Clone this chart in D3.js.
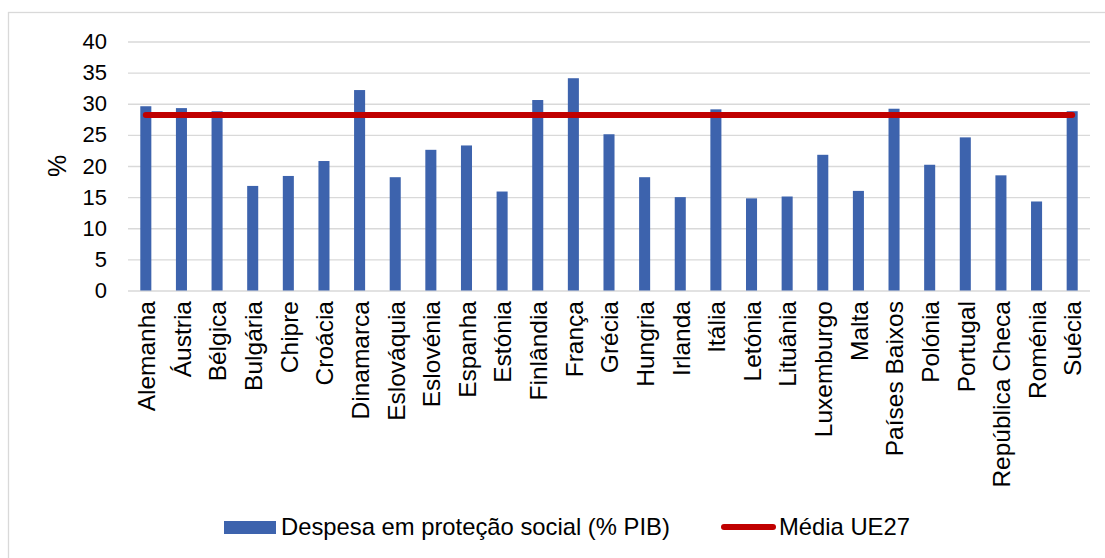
<!doctype html>
<html>
<head>
<meta charset="utf-8">
<script src="https://d3js.org/d3.v7.min.js"></script>
<style>
    body { margin: 0; background: #fff; }
    svg text { font-family: "Liberation Sans", Arial, sans-serif; fill: #000; }
</style>
</head>
<body>
<script>
    // países UE27 e despesa em proteção social (% PIB)
    const paises = ["Alemanha", "Áustria", "Bélgica", "Bulgária", "Chipre", "Croácia", "Dinamarca",
        "Eslováquia", "Eslovénia", "Espanha", "Estónia", "Finlândia", "França", "Grécia", "Hungria",
        "Irlanda", "Itália", "Letónia", "Lituânia", "Luxemburgo", "Malta", "Países Baixos", "Polónia",
        "Portugal", "República Checa", "Roménia", "Suécia"];
    const despesa = [29.6, 29.3, 28.8, 16.8, 18.4, 20.8, 32.2,
        18.2, 22.6, 23.3, 15.9, 30.6, 34.1, 25.1, 18.2,
        15.0, 29.1, 14.8, 15.1, 21.8, 16.0, 29.2, 20.2,
        24.6, 18.5, 14.3, 28.8];
    const mediaUE27 = 28.2;
    const yTicks = [0, 5, 10, 15, 20, 25, 30, 35, 40];
    const legenda = ["Despesa em proteção social (% PIB)", "Média UE27"];

    const W = 1105, H = 558;
    const plotL = 128, plotR = 1090, plotT = 41.5, plotB = 290.5;

    const svg = d3.select("body").append("svg")
        .attr("width", W)
        .attr("height", H);

    // chart border (runs past the window on right/bottom)
    svg.append("rect")
        .attr("x", 8.5).attr("y", 12.5)
        .attr("width", W + 20).attr("height", H + 20)
        .attr("fill", "none")
        .attr("stroke", "#d9d9d9")
        .attr("stroke-width", 1.3);

    const x = d3.scaleBand()
        .domain(paises)
        .range([plotL, plotR])
        .paddingInner(0.69)
        .paddingOuter(0.345);

    const y = d3.scaleLinear()
        .domain([0, 40])
        .range([plotB, plotT]);

    // gridlines
    const grid = svg.append("g")
        .attr("transform", `translate(${plotL},0)`)
        .call(d3.axisLeft(y).tickValues(yTicks).tickSize(-(plotR - plotL)).tickFormat(""));
    grid.select(".domain").remove();
    grid.selectAll("line").attr("stroke", "#d9d9d9").attr("stroke-width", 1.4);

    // y tick labels
    const yAxis = svg.append("g")
        .attr("transform", `translate(${plotL},0)`)
        .call(d3.axisLeft(y).tickValues(yTicks).tickSize(0).tickPadding(21));
    yAxis.select(".domain").remove();
    yAxis.selectAll("text")
        .style("font-size", "22px")
        .style("font-family", "'Liberation Sans', Arial, sans-serif")
        .attr("fill", "#000");

    // y title
    svg.append("text")
        .attr("transform", "translate(66,166) rotate(-90)")
        .attr("text-anchor", "middle")
        .style("font-size", "25px")
        .text("%");

    // bars
    svg.append("g").selectAll("rect")
        .data(despesa)
        .join("rect")
        .attr("x", (d, i) => x(paises[i]))
        .attr("y", d => y(d))
        .attr("width", x.bandwidth())
        .attr("height", d => y(0) - y(d))
        .attr("fill", "#3d63ad");

    // EU average line
    const line = d3.line()
        .x(p => x(p) + x.bandwidth() / 2)
        .y(() => y(mediaUE27));
    svg.append("path")
        .datum(paises)
        .attr("d", line)
        .attr("fill", "none")
        .attr("stroke", "#c00000")
        .attr("stroke-width", 6)
        .attr("stroke-linecap", "round");

    // x labels, rotated
    svg.append("g").selectAll("text")
        .data(paises)
        .join("text")
        .attr("transform", p => `translate(${x(p) + x.bandwidth() / 2},301) rotate(-90)`)
        .attr("text-anchor", "end")
        .attr("dy", "0.38em")
        .style("font-size", "24.5px")
        .text(p => p);

    // legend
    const lg = svg.append("g");
    lg.append("rect")
        .attr("x", 224).attr("y", 521)
        .attr("width", 52).attr("height", 13)
        .attr("fill", "#3d63ad");
    lg.append("text")
        .attr("x", 281).attr("y", 535)
        .style("font-size", "23.8px")
        .text(legenda[0]);
    lg.append("line")
        .attr("x1", 724).attr("x2", 773)
        .attr("y1", 527).attr("y2", 527)
        .attr("stroke", "#c00000")
        .attr("stroke-width", 6)
        .attr("stroke-linecap", "round");
    lg.append("text")
        .attr("x", 779).attr("y", 535)
        .style("font-size", "23.8px")
        .text(legenda[1]);
</script>
</body>
</html>
